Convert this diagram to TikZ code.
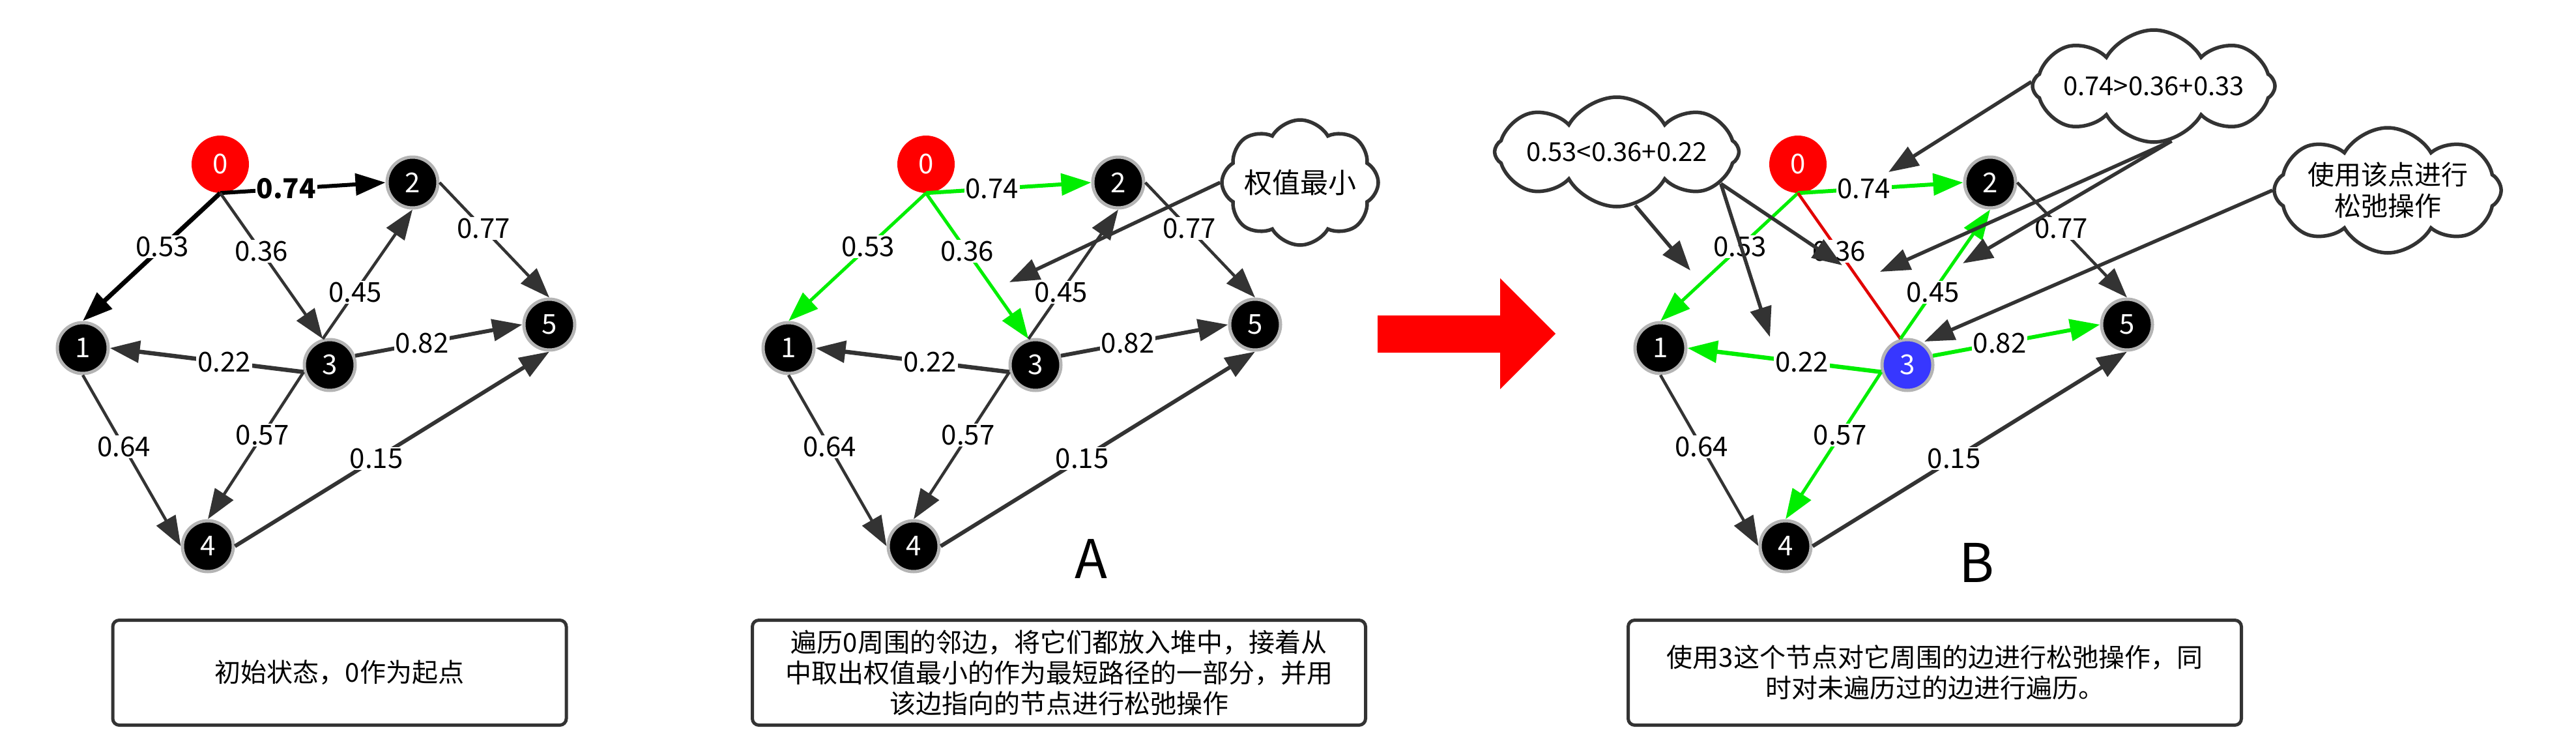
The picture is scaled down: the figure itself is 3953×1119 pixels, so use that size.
\documentclass[tikz,border=0pt]{standalone}
\usepackage{fontspec}
\setmainfont{Noto Sans CJK SC}
\usetikzlibrary{arrows.meta,shapes.symbols}
\definecolor{edgegray}{RGB}{51,51,51}
\definecolor{nodegray}{RGB}{180,180,180}
\definecolor{grn}{RGB}{0,238,0}
\definecolor{bluenode}{RGB}{55,55,255}
\definecolor{redline}{RGB}{225,0,0}
\begin{document}
\begin{tikzpicture}[x=1pt,y=-1pt,
  vert/.style={circle, fill=black, draw=nodegray, line width=5pt, minimum size=78pt, inner sep=0pt, text=white, font=\fontsize{42}{42}\selectfont},
  src/.style={circle, fill=red, minimum size=88pt, inner sep=0pt, text=white, font=\fontsize{42}{42}\selectfont},
  e/.style={draw=edgegray, line width=4.5pt, -{Triangle[length=46pt,width=33pt]}},
  lbl/.style={fill=white, inner sep=2pt, text=black, font=\fontsize{42}{42}\selectfont},
  ptr/.style={draw=edgegray, line width=5.5pt, -{Triangle[length=46pt,width=33pt]}},
  cld/.style={cloud, cloud puffs=8, cloud puff arc=120, cloud ignores aspect, draw=edgegray, line width=5.5pt, fill=white, inner sep=0pt, align=center},
  box/.style={draw=edgegray, line width=5pt, rounded corners=10pt, fill=white, align=center, minimum height=161pt, font=\fontsize{40}{47}\selectfont},
  big/.style={font=\fontsize{82}{82}\selectfont}
]
\useasboundingbox (0,0) rectangle (3953,1119);

% ---------------- graph 1 ----------------
\node[src]  (a0) at (338,252) {0};
\node[vert] (a1) at (127,534) {1};
\node[vert] (a2) at (633,280) {2};
\node[vert] (a3) at (506,560) {3};
\node[vert] (a4) at (319,838) {4};
\node[vert] (a5) at (843,498) {5};
\draw[e, draw=black, line width=7pt] (a0.south) -- node[lbl,pos=.42]{0.53} (a1.north);
\draw[e, draw=black, line width=6pt] (a0.south) -- node[lbl,pos=.40,font=\fontsize{42}{42}\selectfont\bfseries]{0.74} (a2.west);
\draw[e] (a0.south) -- node[lbl,pos=.40]{0.36} (a3.105);
\draw[e] (a3.105) -- node[lbl,pos=.36]{0.45} (a2.south);
\draw[e] (a2.east) -- node[lbl,pos=.40]{0.77} (a5.north);
\draw[e, line width=6pt] (a3.20) -- node[lbl,pos=.40]{0.82} (a5.west);
\draw[e, line width=6.5pt] (a3.195) -- node[lbl,pos=.41]{0.22} (a1.east);
\draw[e] (a3.195) -- node[lbl,pos=.43]{0.57} (a4.north);
\draw[e] (a1.south) -- node[lbl,pos=.42]{0.64} (a4.west);
\draw[e, line width=6pt] (a4.east) -- node[lbl,pos=.45]{0.15} (a5.south);

% ---------------- graph 2 ----------------
\node[src]  (b0) at (1421,252) {0};
\node[vert] (b1) at (1210,534) {1};
\node[vert] (b2) at (1716,280) {2};
\node[vert] (b3) at (1589,560) {3};
\node[vert] (b4) at (1402,838) {4};
\node[vert] (b5) at (1926,498) {5};
\draw[e, draw=grn, line width=5pt] (b0.south) -- node[lbl,pos=.42]{0.53} (b1.north);
\draw[e, draw=grn, line width=6pt] (b0.south) -- node[lbl,pos=.40]{0.74} (b2.west);
\draw[e, draw=grn, line width=5pt] (b0.south) -- node[lbl,pos=.40]{0.36} (b3.105);
\draw[e] (b3.105) -- node[lbl,pos=.36]{0.45} (b2.south);
\draw[e] (b2.east) -- node[lbl,pos=.40]{0.77} (b5.north);
\draw[e, line width=6pt] (b3.20) -- node[lbl,pos=.40]{0.82} (b5.west);
\draw[e, line width=6.5pt] (b3.195) -- node[lbl,pos=.41]{0.22} (b1.east);
\draw[e] (b3.195) -- node[lbl,pos=.43]{0.57} (b4.north);
\draw[e] (b1.south) -- node[lbl,pos=.42]{0.64} (b4.west);
\draw[e, line width=6pt] (b4.east) -- node[lbl,pos=.45]{0.15} (b5.south);
\node[cld, minimum width=240pt, minimum height=192pt, font=\fontsize{43}{43}\selectfont] (cG) at (1995,280) {权值最小};
\coordinate (tG) at (1549,433);
\draw[ptr] (cG.west) -- (tG);
\node[big] (lA) at (1674,857) {A};

% ---------------- big red arrow ----------------
\fill[red] (2114,484) -- (2302,484) -- (2302,427) -- (2387,512) -- (2302,597) -- (2302,541) -- (2114,541) -- cycle;

% ---------------- graph 3 ----------------
\node[src]  (c0) at (2759,252) {0};
\node[vert] (c1) at (2548,534) {1};
\node[vert] (c2) at (3054,280) {2};
\node[vert, fill=bluenode] (c3) at (2927,560) {3};
\node[vert] (c4) at (2740,838) {4};
\node[vert] (c5) at (3264,498) {5};
\draw[e, draw=grn, line width=5pt] (c0.south) -- node[lbl,pos=.42]{0.53} (c1.north);
\draw[e, draw=grn, line width=6pt] (c0.south) -- node[lbl,pos=.40]{0.74} (c2.west);
\draw[draw=redline, line width=4.5pt] (c0.south) -- node[lbl,pos=.40]{0.36} (c3.105);
\draw[e, draw=grn, line width=5pt] (c3.105) -- node[lbl,pos=.36]{0.45} (c2.south);
\draw[e] (c2.east) -- node[lbl,pos=.40]{0.77} (c5.north);
\draw[e, draw=grn, line width=6pt] (c3.20) -- node[lbl,pos=.40]{0.82} (c5.west);
\draw[e, draw=grn, line width=6.5pt] (c3.195) -- node[lbl,pos=.41]{0.22} (c1.east);
\draw[e, draw=grn, line width=5pt] (c3.195) -- node[lbl,pos=.43]{0.57} (c4.north);
\draw[e] (c1.south) -- node[lbl,pos=.42]{0.64} (c4.west);
\draw[e, line width=6pt] (c4.east) -- node[lbl,pos=.45]{0.15} (c5.south);

\node[cld, minimum width=375pt, minimum height=168pt, font=\fontsize{40}{40}\selectfont] (cA) at (2481,233) {0.53<0.36+0.22};
\node[cld, minimum width=372pt, minimum height=172pt, font=\fontsize{40}{40}\selectfont] (cB) at (3305,132) {0.74>0.36+0.33};
\node[cld, minimum width=295pt, minimum height=192pt, font=\fontsize{41}{48}\selectfont] (cC) at (3664,292) {使用该点进行\\松弛操作};
\coordinate (tA1) at (2594,415);
\coordinate (tA2) at (2716,517);
\coordinate (tA3) at (2827,407);
\coordinate (tB1) at (2898,264);
\coordinate (tB2) at (2885,417);
\coordinate (tB3) at (3012,404);
\coordinate (tC)  at (2953,524);
\draw[ptr] (cA.289) -- (tA1);
\draw[ptr] (cA.343) -- (tA2);
\draw[ptr] (cA.343) -- (tA3);
\draw[ptr] (cB.178) -- (tB1);
\draw[ptr] (cB.288) -- (tB2);
\draw[ptr] (cB.288) -- (tB3);
\draw[ptr] (cC.west) -- (tC);
\node[big] (lB) at (3033,863) {B};

% ---------------- text boxes ----------------
\node[box, minimum width=696pt] (box1) at (521,1032) {初始状态，0作为起点};
\node[box, minimum width=941pt] (box2) at (1625,1032) {遍历0周围的邻边，将它们都放入堆中，接着从\\中取出权值最小的作为最短路径的一部分，并用\\该边指向的节点进行松弛操作};
\node[box, minimum width=941pt] (box3) at (2969,1032) {使用3这个节点对它周围的边进行松弛操作，同\\时对未遍历过的边进行遍历。};
\end{tikzpicture}
\end{document}
